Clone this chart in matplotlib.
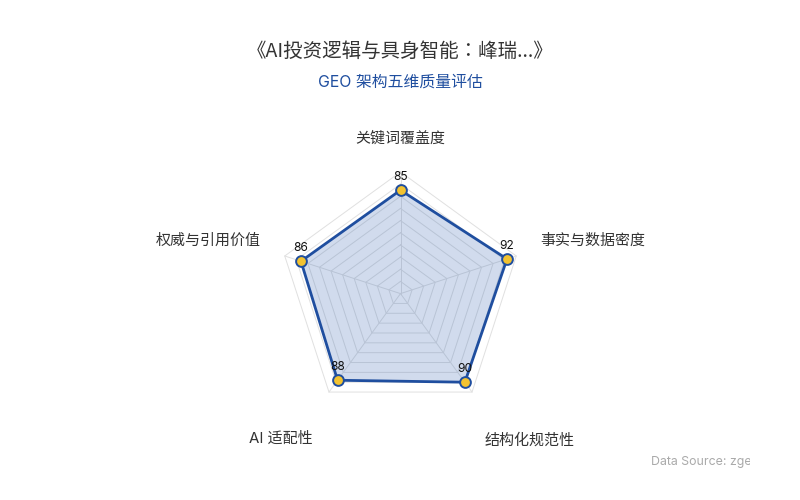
import numpy as np
import matplotlib
matplotlib.use("Agg")
import matplotlib.pyplot as plt
from matplotlib.transforms import Bbox

plt.rcParams['font.family'] = ['Inter', 'Noto Sans CJK SC', 'DejaVu Sans']

title = "《AI投资逻辑与具身智能：峰瑞...》"
subtitle = "GEO 架构五维质量评估"
source = "Data Source: zgeo.ai"
indicators = ["关键词覆盖度", "事实与数据密度", "结构化规范性", "AI 适配性", "权威与引用价值"]
values = [85, 92, 90, 88, 86]
vmax = 100
splits = 10

BLUE = "#1f4e9f"
YELLOW = "#f2c230"

fig = plt.figure(figsize=(8, 5), dpi=100)
ax = fig.add_axes([0, 0, 1, 1])
# centre of radar at pixel (400.5, 293.6), 100 units = 121.7 px
k = 1.217
ax.set_xlim(-400.5 / k, 399.5 / k)
ax.set_ylim(-206.4 / k, 293.6 / k)
ax.axis("off")

n = len(indicators)
ang = np.pi / 2 - np.arange(n) * 2 * np.pi / n
cs, sn = np.cos(ang), np.sin(ang)

# split lines (rings) and axis spokes
for i in range(1, splits + 1):
    r = vmax * i / splits
    ax.plot(np.append(r * cs, r * cs[0]), np.append(r * sn, r * sn[0]),
            color="#e0e0e0", lw=0.7, zorder=1)
for c, s in zip(cs, sn):
    ax.plot([0, vmax * c], [0, vmax * s], color="#e0e0e0", lw=0.7, zorder=1)

v = np.array(values, dtype=float)
xs, ys = v * cs, v * sn
ax.fill(xs, ys, color="#2f5fb0", alpha=0.22, lw=0, zorder=2)
ax.plot(np.append(xs, xs[0]), np.append(ys, ys[0]), color=BLUE, lw=2.0, zorder=3)
ax.scatter(xs, ys, s=60, color=YELLOW, edgecolors=BLUE, linewidths=1.4, zorder=4)
for x, y, val in zip(xs, ys, values):
    ax.annotate(str(val), (x, y), xytext=(0, 5), textcoords="offset points",
                ha="center", va="bottom", fontsize=8.6, color="#111111", zorder=5)

# indicator names (pixel anchors)
name_pos = [(400, 139, "center"), (540, 241, "left"), (485, 440, "left"),
            (313, 439, "right"), (261, 241, "right")]
for name, (px, py, ha) in zip(indicators, name_pos):
    fig.text(px / 800, 1 - py / 500, name, ha=ha, va="center",
             fontsize=10.8, color="#333333")

fig.text(0.5, 1 - 51 / 500, title, ha="center", va="center", fontsize=14,
         color="#333333", family=['Noto Sans CJK JP', 'DejaVu Sans'])
fig.text(0.5, 1 - 82 / 500, subtitle, ha="center", va="center", fontsize=11.4, color=BLUE)

t = fig.text(651 / 800, 1 - 462 / 500, source, ha="left", va="center",
             fontsize=8.9, color="#aaaaaa")
t.set_clip_box(Bbox([[0, 0], [750, 500]]))
t.set_clip_on(True)

fig.savefig("out.png", dpi=100)
